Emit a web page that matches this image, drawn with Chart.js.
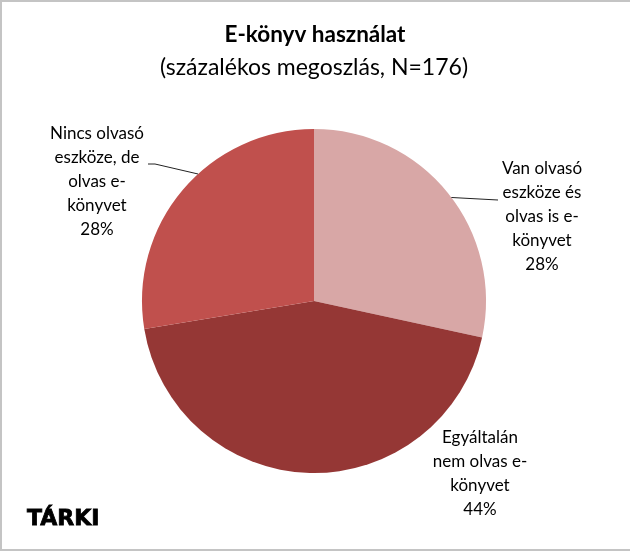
<!DOCTYPE html>
<html lang="hu">
<head>
    <meta charset="UTF-8">
    <title>E-könyv használat</title>
    <script src="https://cdn.jsdelivr.net/npm/chart.js"></script>
    <style>
        html, body { margin: 0; padding: 0; background: #fff; overflow: hidden; }
        #frame { position: absolute; left: 0; top: 0; width: 640px; height: 547px; border: 2px solid #c4c4c4; pointer-events: none; }
        #pieChart { position: absolute; left: 0; top: 0; }
    </style>
</head>
<body>
    <canvas id="pieChart" width="630" height="553"></canvas>
    <div id="frame"></div>

    <script>
        // Data (share of respondents, %)
        const categories = [
            'Van olvasó eszköze és olvas is e-könyvet',
            'Egyáltalán nem olvas e-könyvet',
            'Nincs olvasó eszköze, de olvas e-könyvet'
        ];
        const labelLines = [
            ['Van olvasó', 'eszköze és', 'olvas is e-', 'könyvet'],
            ['Egyáltalán', 'nem olvas e-', 'könyvet'],
            ['Nincs olvasó', 'eszköze, de', 'olvas e-', 'könyvet']
        ];
        const shares = [28.4, 44.0, 27.6];
        const sliceColors = ['#d8a7a6', '#953735', '#c0504d'];

        const titleText = 'E-könyv használat';
        const subtitleText = '(százalékos megoszlás, N=176)';
        const sourceText = 'TÁRKI';

        // where each label block sits, relative to the pie centre
        const labelOffsets = [
            { dx: 228, dy: -132 },
            { dx: 166, dy: 137 },
            { dx: -217, dy: -167 }
        ];
        // leader lines: text end (+ optional elbow), then to the slice edge at 'angle'
        const leaders = [
            { from: [184, -101], elbow: null, angle: -37 },
            null,
            { from: [-166, -137], elbow: [-159, -137], angle: -132.4 }
        ];

        const labelPlugin = {
            id: 'excelLabels',
            afterDraw(chart) {
                const ctx = chart.ctx;
                const arc = chart.getDatasetMeta(0).data[0];
                const cx = arc.x, cy = arc.y, r = arc.outerRadius;

                ctx.save();
                ctx.fillStyle = '#000';
                ctx.textAlign = 'center';
                ctx.textBaseline = 'middle';

                ctx.font = 'bold 22.5px Lato';
                ctx.fillText(titleText, 315, 35);
                ctx.font = '23px Lato';
                ctx.fillText(subtitleText, 314, 68);

                // leader lines
                ctx.strokeStyle = '#222';
                ctx.lineWidth = 1;
                leaders.forEach(l => {
                    if (!l) return;
                    const a = l.angle * Math.PI / 180;
                    ctx.beginPath();
                    ctx.moveTo(cx + l.from[0], cy + l.from[1]);
                    if (l.elbow) ctx.lineTo(cx + l.elbow[0], cy + l.elbow[1]);
                    ctx.lineTo(cx + Math.cos(a) * r, cy + Math.sin(a) * r);
                    ctx.stroke();
                });

                // slice labels
                ctx.font = '17px Lato';
                const lineH = 24;
                labelLines.forEach((lines, i) => {
                    const all = lines.concat([Math.round(shares[i]) + '%']);
                    const x = cx + labelOffsets[i].dx;
                    const y0 = cy + labelOffsets[i].dy;
                    all.forEach((t, k) => ctx.fillText(t, x, y0 + k * lineH));
                });

                // source mark
                ctx.textAlign = 'left';
                ctx.font = 'bold 22px "DejaVu Sans"';
                ctx.lineWidth = 0.8;
                ctx.strokeStyle = '#000';
                ctx.fillText(sourceText, 27, 519);
                ctx.strokeText(sourceText, 27, 519);
                ctx.restore();
            }
        };

        new Chart(document.getElementById('pieChart'), {
            type: 'pie',
            data: {
                labels: categories,
                datasets: [{
                    data: shares,
                    backgroundColor: sliceColors,
                    borderWidth: 0
                }]
            },
            options: {
                responsive: false,
                animation: false,
                layout: { padding: { top: 129, bottom: 80, left: 142, right: 144 } },
                plugins: {
                    legend: { display: false },
                    tooltip: { enabled: false }
                }
            },
            plugins: [labelPlugin]
        });
    </script>
</body>
</html>
